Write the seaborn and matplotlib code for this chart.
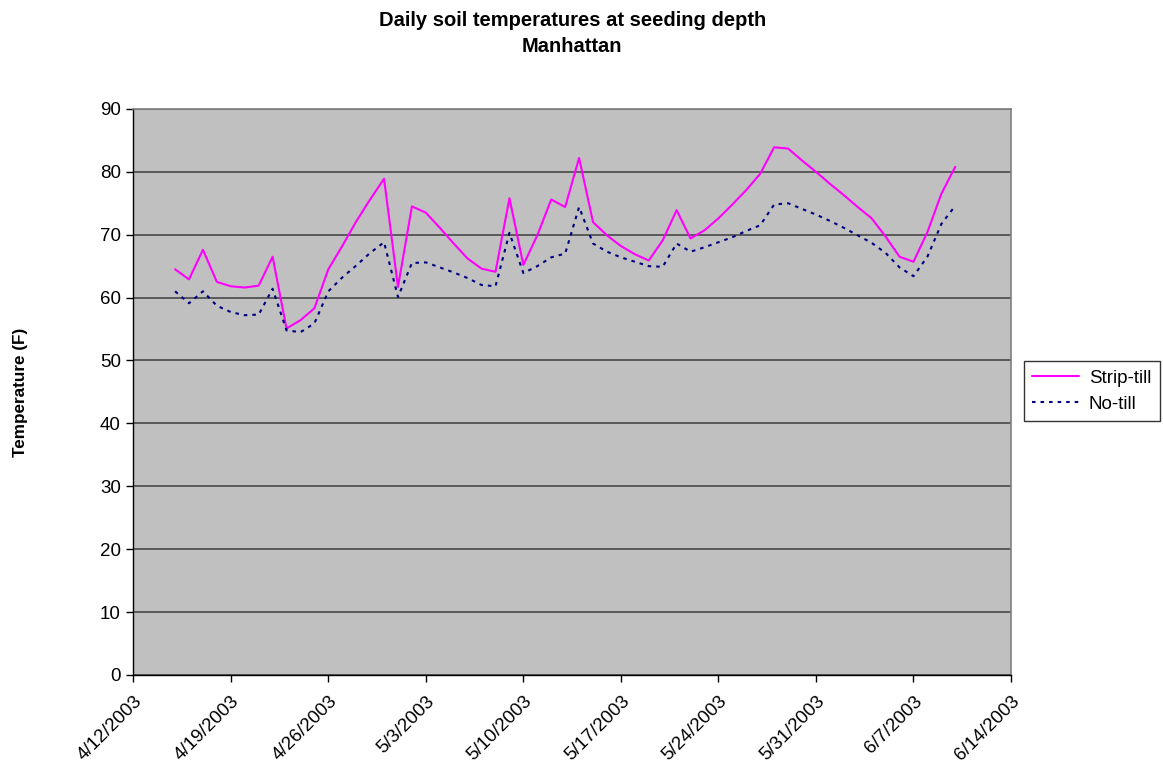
"""Daily soil temperatures at seeding depth, Manhattan (strip-till vs no-till)."""

import matplotlib
matplotlib.use("Agg")
import matplotlib.pyplot as plt
import pandas as pd
import seaborn as sns

# daily readings, 4/15/2003 .. 6/10/2003
START = "2003-04-15"
STRIP_TILL = [64.5, 62.9, 67.6, 62.5, 61.8, 61.6, 61.9, 66.5, 55.1, 56.4,
              58.3, 64.5, 68.2, 72.1, 75.6, 78.9, 61.7, 74.5, 73.5, 71.1,
              68.6, 66.2, 64.6, 64.1, 75.8, 65.2, 69.9, 75.6, 74.4, 82.2,
              72.0, 69.9, 68.2, 66.9, 65.9, 69.1, 73.9, 69.4, 70.7, 72.6,
              74.8, 77.1, 79.7, 83.9, 83.7, 81.8, 80.0, 78.1, 76.3, 74.4,
              72.6, 69.7, 66.5, 65.7, 70.4, 76.5, 80.8]
NO_TILL = [61.0, 59.1, 61.0, 58.7, 57.7, 57.2, 57.3, 61.4, 54.8, 54.5,
           55.9, 61.0, 63.2, 65.1, 67.1, 68.8, 60.1, 65.5, 65.6, 64.8,
           64.0, 63.1, 62.0, 61.8, 70.3, 63.9, 65.0, 66.4, 67.0, 74.4,
           68.6, 67.3, 66.4, 65.7, 65.0, 64.9, 68.6, 67.3, 68.0, 68.8,
           69.6, 70.6, 71.5, 74.8, 75.0, 74.1, 73.2, 72.2, 71.1, 69.9,
           68.7, 67.1, 64.8, 63.4, 66.5, 71.7, 74.6]
SERIES = ["Strip-till", "No-till"]
COLORS = {"Strip-till": "#FF00FF", "No-till": "#000080"}
Y_TICKS = list(range(0, 91, 10))
X_RANGE = ("2003-04-12", "2003-06-14")
DASH = (1.7, 2.4)


def build_frame():
    dates = pd.date_range(START, periods=len(STRIP_TILL), freq="D")
    wide = pd.DataFrame({"date": dates, "Strip-till": STRIP_TILL, "No-till": NO_TILL})
    return wide.melt(id_vars="date", var_name="series", value_name="temp")


def plot(df, output):
    sns.set_style("white")
    plt.rcParams["font.family"] = ["Liberation Sans", "DejaVu Sans"]
    for key in ("text.color", "axes.labelcolor", "xtick.color", "ytick.color"):
        plt.rcParams[key] = "black"

    fig = plt.figure(figsize=(11.63, 7.67), dpi=100)
    ax = fig.add_axes([0.1146, 0.12, 0.7547, 0.738])
    ax.set_facecolor("#C0C0C0")

    sns.lineplot(data=df, x="date", y="temp", hue="series", style="series",
                 hue_order=SERIES, style_order=SERIES, palette=COLORS,
                 dashes={"Strip-till": "", "No-till": DASH},
                 linewidth=1.5, ax=ax, legend=False)

    ax.set_ylim(0, 90)
    ax.set_yticks(Y_TICKS)
    ax.set_xlim(pd.Timestamp(X_RANGE[0]), pd.Timestamp(X_RANGE[1]))
    ticks = pd.date_range(X_RANGE[0], X_RANGE[1], freq="7D")
    ax.set_xticks(ticks)
    ax.set_xticklabels([f"{d.month}/{d.day}/{d.year}" for d in ticks],
                       rotation=45, ha="right", rotation_mode="anchor")

    ax.yaxis.grid(True, color="#5a5a5a", lw=1.4)
    ax.set_axisbelow(True)
    for side in ("top", "right"):
        ax.spines[side].set_color("#808080")
        ax.spines[side].set_linewidth(1.2)
    for side in ("left", "bottom"):
        ax.spines[side].set_color("black")
        ax.spines[side].set_linewidth(1.0)
    ax.tick_params(axis="both", direction="out", length=5, width=1,
                   color="black", labelsize=13.5, pad=4, left=True, bottom=True)
    ax.tick_params(axis="x", pad=8)

    ax.set_xlabel("")
    ax.set_ylabel("Temperature (F)", fontsize=12.3, fontweight="bold")
    ax.yaxis.set_label_coords(-0.12, 0.5)

    fig.text(0.492, 0.986, "Daily soil temperatures at seeding depth\nManhattan",
             ha="center", va="top", fontsize=14.5, fontweight="bold", linespacing=1.5)

    handles = [plt.Line2D([], [], color=COLORS["Strip-till"], lw=1.5),
               plt.Line2D([], [], color=COLORS["No-till"], lw=1.5, ls=(0, DASH))]
    leg = fig.legend(handles, SERIES, loc="center left", bbox_to_anchor=(0.8805, 0.49),
                     fontsize=13.5, frameon=True, fancybox=False, handlelength=2.5,
                     borderpad=0.45, labelspacing=0.45, handletextpad=0.5,
                     borderaxespad=0)
    leg.get_frame().set_edgecolor("black")
    leg.get_frame().set_linewidth(1.0)

    fig.savefig(output, dpi=100, facecolor="white")


if __name__ == "__main__":
    plot(build_frame(), "out.png")
